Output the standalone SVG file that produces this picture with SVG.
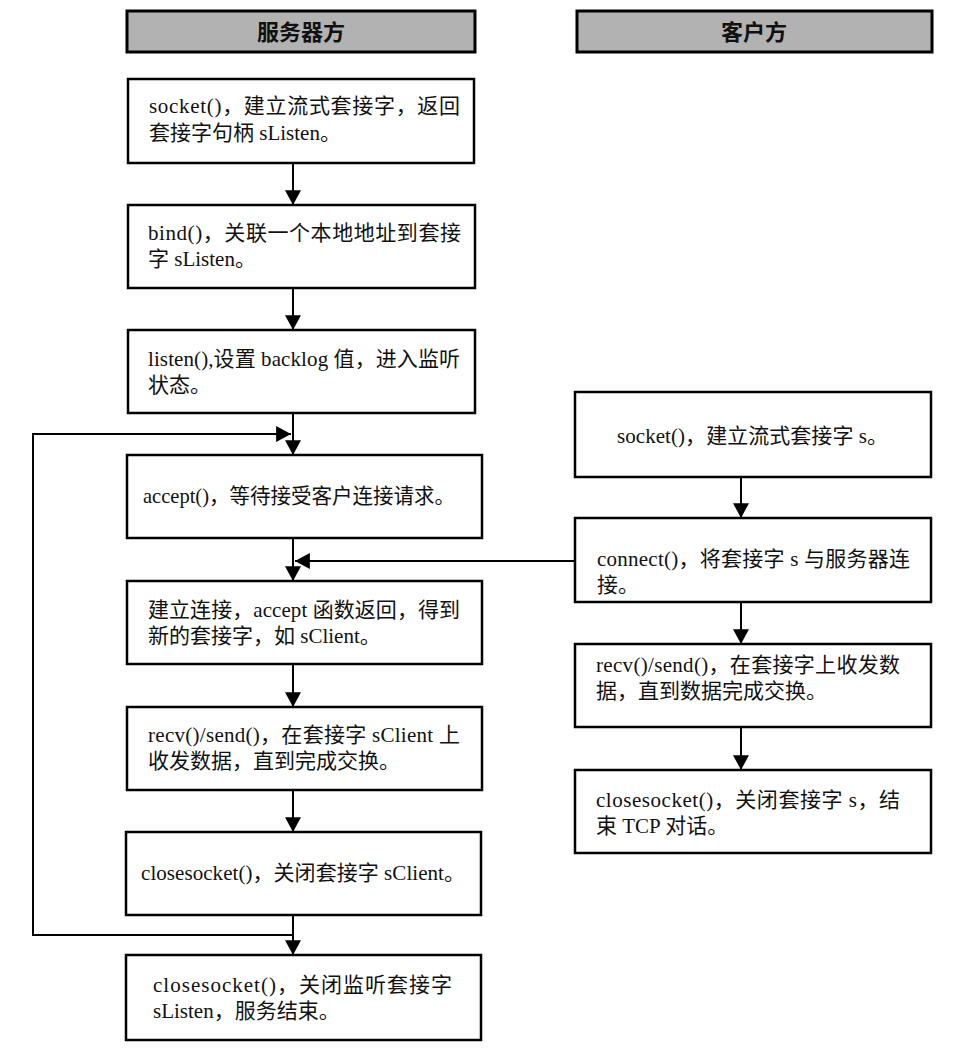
<svg xmlns="http://www.w3.org/2000/svg" width="963" height="1057" viewBox="0 0 963 1057">
<style>
.box{fill:#fff;stroke:#000;stroke-width:2.5}
.hdr{fill:#b2b2b2;stroke:#000;stroke-width:3}
.t{font-family:"Liberation Serif","Noto Sans CJK SC",serif;font-size:21px;fill:#111}
.h{font-family:"Noto Sans CJK SC","Liberation Serif",sans-serif;font-size:22px;font-weight:bold;fill:#111}
.ln{fill:none;stroke:#000;stroke-width:2}
</style>
<defs>
<marker id="ah" markerUnits="userSpaceOnUse" markerWidth="16" markerHeight="16" viewBox="0 0 14 14" refX="13" refY="7" orient="auto">
<path d="M0,0 L13,7 L0,14 Z" fill="#000"/>
</marker>
</defs>
<rect width="963" height="1057" fill="#fff"/>
<g id="hdr-server"><rect class="hdr" x="127" y="11" width="348" height="41"/><text class="h" x="301" y="40" text-anchor="middle">服务器方</text></g>
<g id="hdr-client"><rect class="hdr" x="577" y="11" width="355" height="41"/><text class="h" x="754" y="40" text-anchor="middle">客户方</text></g>

<g id="s1"><rect class="box" x="128" y="79" width="346" height="84"/>
<text class="t" x="149" y="113" textLength="311" lengthAdjust="spacing">socket()，建立流式套接字，返回</text>
<text class="t" x="149" y="140">套接字句柄 sListen。</text></g>
<g id="s2"><rect class="box" x="128" y="205" width="347" height="83"/>
<text class="t" x="148" y="240" textLength="313" lengthAdjust="spacing">bind()，关联一个本地地址到套接</text>
<text class="t" x="148" y="266">字 sListen。</text></g>
<g id="s3"><rect class="box" x="128" y="330" width="347" height="83"/>
<text class="t" x="148" y="366" textLength="312" lengthAdjust="spacing">listen(),设置 backlog 值，进入监听</text>
<text class="t" x="148" y="392">状态。</text></g>
<g id="s4"><rect class="box" x="127" y="455" width="355" height="83"/>
<text class="t" x="143" y="503" textLength="312" lengthAdjust="spacingAndGlyphs">accept()，等待接受客户连接请求。</text></g>
<g id="s5"><rect class="box" x="127" y="581" width="355" height="83"/>
<text class="t" x="148" y="617" textLength="312" lengthAdjust="spacing">建立连接，accept 函数返回，得到</text>
<text class="t" x="148" y="643">新的套接字，如 sClient。</text></g>
<g id="s6"><rect class="box" x="127" y="707" width="355" height="83"/>
<text class="t" x="148" y="742" textLength="312" lengthAdjust="spacing">recv()/send()，在套接字 sClient 上</text>
<text class="t" x="148" y="768">收发数据，直到完成交换。</text></g>
<g id="s7"><rect class="box" x="126" y="832" width="355" height="83"/>
<text class="t" x="141" y="880" textLength="324" lengthAdjust="spacing">closesocket()，关闭套接字 sClient。</text></g>
<g id="s8"><rect class="box" x="126" y="955" width="355" height="85"/>
<text class="t" x="153" y="992" textLength="299" lengthAdjust="spacing">closesocket()，关闭监听套接字</text>
<text class="t" x="153" y="1018">sListen，服务结束。</text></g>

<g id="c1"><rect class="box" x="575" y="392" width="356" height="85"/>
<text class="t" x="617" y="443" textLength="271" lengthAdjust="spacing">socket()，建立流式套接字 s。</text></g>
<g id="c2"><rect class="box" x="575" y="518" width="356" height="84"/>
<text class="t" x="597" y="566" textLength="313" lengthAdjust="spacing">connect()，将套接字 s 与服务器连</text>
<text class="t" x="597" y="592">接。</text></g>
<g id="c3"><rect class="box" x="575" y="644" width="356" height="83"/>
<text class="t" x="596" y="672" textLength="304" lengthAdjust="spacing">recv()/send()，在套接字上收发数</text>
<text class="t" x="596" y="698">据，直到数据完成交换。</text></g>
<g id="c4"><rect class="box" x="575" y="770" width="356" height="83"/>
<text class="t" x="596" y="807" textLength="304" lengthAdjust="spacing">closesocket()，关闭套接字 s，结</text>
<text class="t" x="596" y="833">束 TCP 对话。</text></g>

<g id="connectors">
<line class="ln" x1="293" y1="163" x2="293" y2="205" marker-end="url(#ah)"/>
<line class="ln" x1="293" y1="288" x2="293" y2="330" marker-end="url(#ah)"/>
<line class="ln" x1="293" y1="413" x2="293" y2="455" marker-end="url(#ah)"/>
<line class="ln" x1="293" y1="538" x2="293" y2="581" marker-end="url(#ah)"/>
<line class="ln" x1="293" y1="664" x2="293" y2="707" marker-end="url(#ah)"/>
<line class="ln" x1="293" y1="790" x2="293" y2="832" marker-end="url(#ah)"/>
<line class="ln" x1="293" y1="915" x2="293" y2="955" marker-end="url(#ah)"/>
<path class="ln" d="M293,935 H33 V434 H291" marker-end="url(#ah)"/>
<path class="ln" d="M575,561 H295" marker-end="url(#ah)"/>
<line class="ln" x1="741" y1="477" x2="741" y2="518" marker-end="url(#ah)"/>
<line class="ln" x1="741" y1="602" x2="741" y2="644" marker-end="url(#ah)"/>
<line class="ln" x1="741" y1="727" x2="741" y2="770" marker-end="url(#ah)"/>
</g>
</svg>
